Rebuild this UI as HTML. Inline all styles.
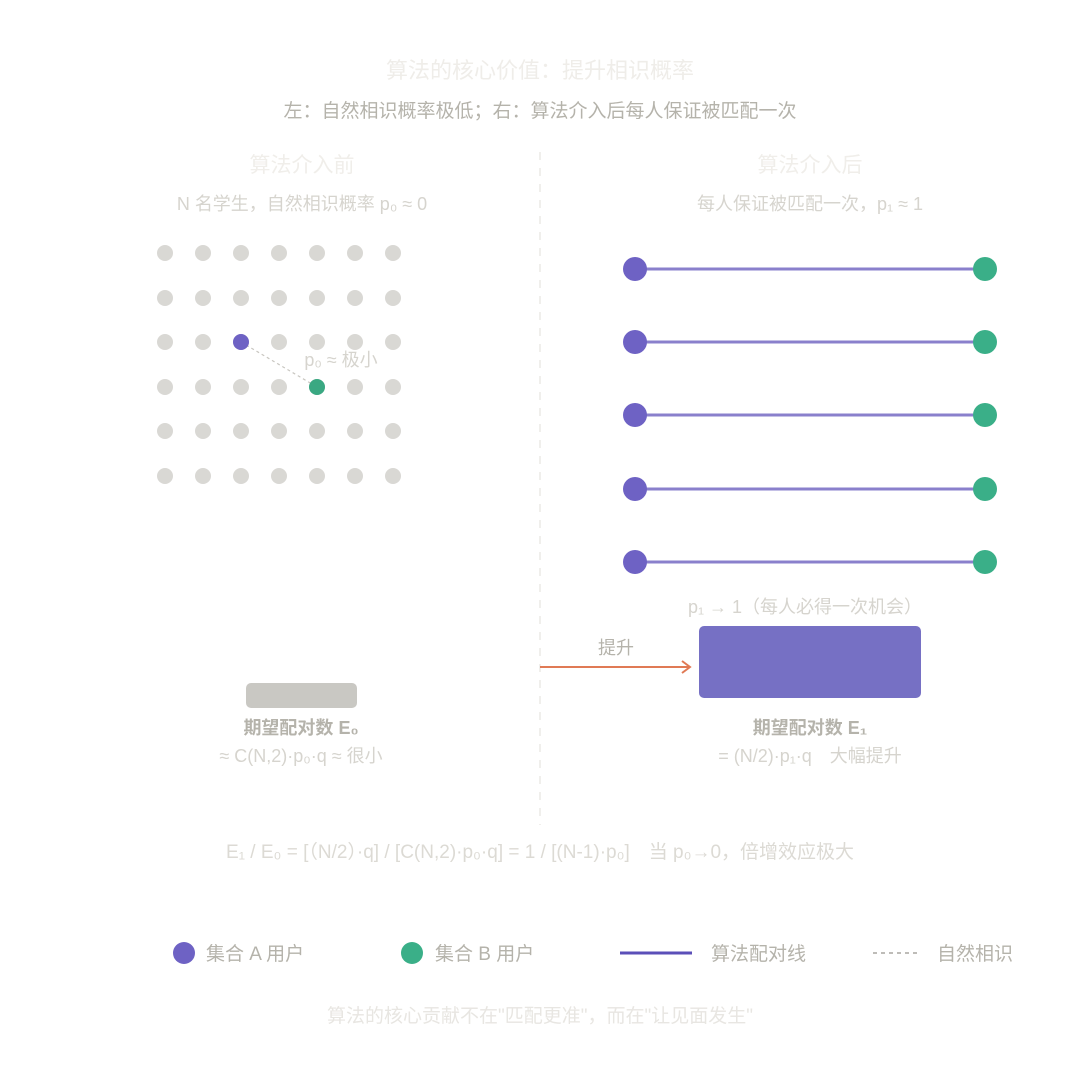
<!DOCTYPE html>
<html><head><meta charset="utf-8"><style>
html,body{margin:0;padding:0;background:#fff;}
svg{display:block;font-family:"Liberation Sans","Noto Sans CJK SC",sans-serif;}
</style></head><body>
<svg width="1080" height="1080" viewBox="0 0 1080 1080" xmlns="http://www.w3.org/2000/svg">
<defs>
<g id="row"><circle cx="165" cy="0" r="8"/><circle cx="203" cy="0" r="8"/><circle cx="241" cy="0" r="8"/><circle cx="279" cy="0" r="8"/><circle cx="317" cy="0" r="8"/><circle cx="355" cy="0" r="8"/><circle cx="393" cy="0" r="8"/></g>
</defs>
<rect width="1080" height="1080" fill="#fff"/>
<text x="540" y="78" text-anchor="middle" font-size="22" fill="#efede9">算法的核心价值：提升相识概率</text>
<text x="540" y="117" text-anchor="middle" font-size="19" fill="#b5b3ab">左：自然相识概率极低；右：算法介入后每人保证被匹配一次</text>
<line x1="540" y1="152" x2="540" y2="825" stroke="#ebeae6" stroke-width="1.5" stroke-dasharray="8,8"/>
<text x="302" y="172" text-anchor="middle" font-size="21" fill="#f0eeea">算法介入前</text>
<text x="810" y="172" text-anchor="middle" font-size="21" fill="#f0eeea">算法介入后</text>
<text x="302" y="210" text-anchor="middle" font-size="18" fill="#d6d4ce">N 名学生，自然相识概率 p₀ ≈ 0</text>
<text x="810" y="210" text-anchor="middle" font-size="18" fill="#d6d4ce">每人保证被匹配一次，p₁ ≈ 1</text>
<g fill="#d9d8d4">
<use href="#row" y="253"/><use href="#row" y="298"/><use href="#row" y="342"/><use href="#row" y="387"/><use href="#row" y="431"/><use href="#row" y="476"/>
</g>
<line x1="241" y1="342" x2="317" y2="387" stroke="#c8c6c0" stroke-width="1.2" stroke-dasharray="3,3"/>
<circle cx="241" cy="342" r="8" fill="#6e62c4"/>
<circle cx="317" cy="387" r="8" fill="#3aa882"/>
<text x="341" y="366" text-anchor="middle" font-size="18" fill="#d6d4ce">p₀ ≈ 极小</text>
<g stroke="#8a80cc" stroke-width="3">
<line x1="635" y1="269" x2="985" y2="269"/><line x1="635" y1="342" x2="985" y2="342"/><line x1="635" y1="415" x2="985" y2="415"/><line x1="635" y1="489" x2="985" y2="489"/><line x1="635" y1="562" x2="985" y2="562"/>
</g>
<g fill="#6e62c4"><circle cx="635" cy="269" r="12"/><circle cx="635" cy="342" r="12"/><circle cx="635" cy="415" r="12"/><circle cx="635" cy="489" r="12"/><circle cx="635" cy="562" r="12"/></g>
<g fill="#3aaf88"><circle cx="985" cy="269" r="12"/><circle cx="985" cy="342" r="12"/><circle cx="985" cy="415" r="12"/><circle cx="985" cy="489" r="12"/><circle cx="985" cy="562" r="12"/></g>
<text x="805" y="613" text-anchor="middle" font-size="18" fill="#d6d4ce">p₁ → 1（每人必得一次机会）</text>
<rect x="699" y="626" width="222" height="72" rx="5" fill="#7670c4"/>
<line x1="540" y1="667" x2="690" y2="667" stroke="#e07a55" stroke-width="2"/>
<polyline points="682,661 690,667 682,673" fill="none" stroke="#e07a55" stroke-width="2"/>
<text x="616" y="654" text-anchor="middle" font-size="18" fill="#b5b3ab">提升</text>
<rect x="246" y="683" width="111" height="25" rx="5" fill="#c9c8c3"/>
<text x="301" y="734" text-anchor="middle" font-size="18" font-weight="bold" fill="#b5b3ab">期望配对数 E₀</text>
<text x="301" y="762" text-anchor="middle" font-size="18" fill="#d6d4ce">≈ C(N,2)·p₀·q ≈ 很小</text>
<text x="810" y="734" text-anchor="middle" font-size="18" font-weight="bold" fill="#b5b3ab">期望配对数 E₁</text>
<text x="810" y="762" text-anchor="middle" font-size="18" fill="#d6d4ce">= (N/2)·p₁·q　大幅提升</text>
<text x="540" y="858" text-anchor="middle" font-size="19" fill="#dcdad4">E₁ / E₀ = [（N/2）·q] / [C(N,2)·p₀·q] = 1 / [(N-1)·p₀]　当 p₀→0，倍增效应极大</text>
<circle cx="184" cy="953" r="11" fill="#6e62c4"/>
<text x="206" y="960" font-size="19" fill="#b5b3ab">集合 A 用户</text>
<circle cx="412" cy="953" r="11" fill="#3aaf88"/>
<text x="435" y="960" font-size="19" fill="#b5b3ab">集合 B 用户</text>
<line x1="620" y1="953" x2="692" y2="953" stroke="#5b4fb8" stroke-width="3"/>
<text x="711" y="960" font-size="19" fill="#b5b3ab">算法配对线</text>
<line x1="873" y1="953" x2="917" y2="953" stroke="#a8a6a0" stroke-width="1.5" stroke-dasharray="4,4"/>
<text x="937" y="960" font-size="19" fill="#b5b3ab">自然相识</text>
<text x="540" y="1022" text-anchor="middle" font-size="19" fill="#e8e6e2">算法的核心贡献不在"匹配更准"，而在"让见面发生"</text>
</svg>
</body></html>
